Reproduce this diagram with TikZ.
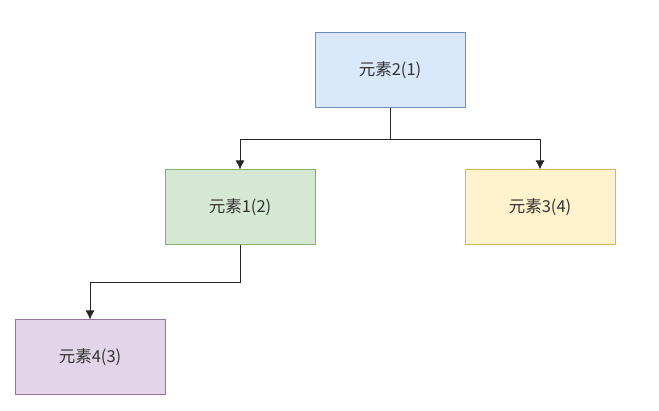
\documentclass[tikz,border=0pt]{standalone}
\usepackage{fontspec}
\setmainfont{Noto Sans CJK SC}
\usetikzlibrary{arrows.meta}
\definecolor{BlueFill}{HTML}{DAE8FC}
\definecolor{BlueLine}{HTML}{6C8EBF}
\definecolor{GreenFill}{HTML}{D5E8D4}
\definecolor{GreenLine}{HTML}{82B366}
\definecolor{YellowFill}{HTML}{FFF2CC}
\definecolor{YellowLine}{HTML}{D6B656}
\definecolor{PurpleFill}{HTML}{E1D5E7}
\definecolor{PurpleLine}{HTML}{9673A6}
\definecolor{TextGray}{HTML}{333333}

\begin{document}
\begin{tikzpicture}[
  x=1pt, y=-1pt,
  elem/.style={
    rectangle,
    minimum width=150pt,
    minimum height=75pt,
    inner sep=0pt,
    line width=1pt,
    align=center,
    text=TextGray,
    font=\fontsize{16.5}{20}\selectfont
  },
  arrow/.style={-{Latex[length=9pt,width=9pt]}, line width=1pt, draw=black!85}
]

  \useasboundingbox (0,0) rectangle (659,411);

  \node[elem, fill=BlueFill, draw=BlueLine] (e2) at (390,70.5) {元素2(1)};
  \node[elem, fill=GreenFill, draw=GreenLine] (e1) at (240,207.5) {元素1(2)};
  \node[elem, fill=YellowFill, draw=YellowLine] (e3) at (540,207.5) {元素3(4)};
  \node[elem, fill=PurpleFill, draw=PurpleLine] (e4) at (90,357.5) {元素4(3)};

  \draw[arrow] (e2.south) -- ++(0,31) -| (e1.north);
  \draw[arrow] (e2.south) -- ++(0,31) -| (e3.north);
  \draw[arrow] (e1.south) -- ++(0,37) -| (e4.north);

\end{tikzpicture}
\end{document}
